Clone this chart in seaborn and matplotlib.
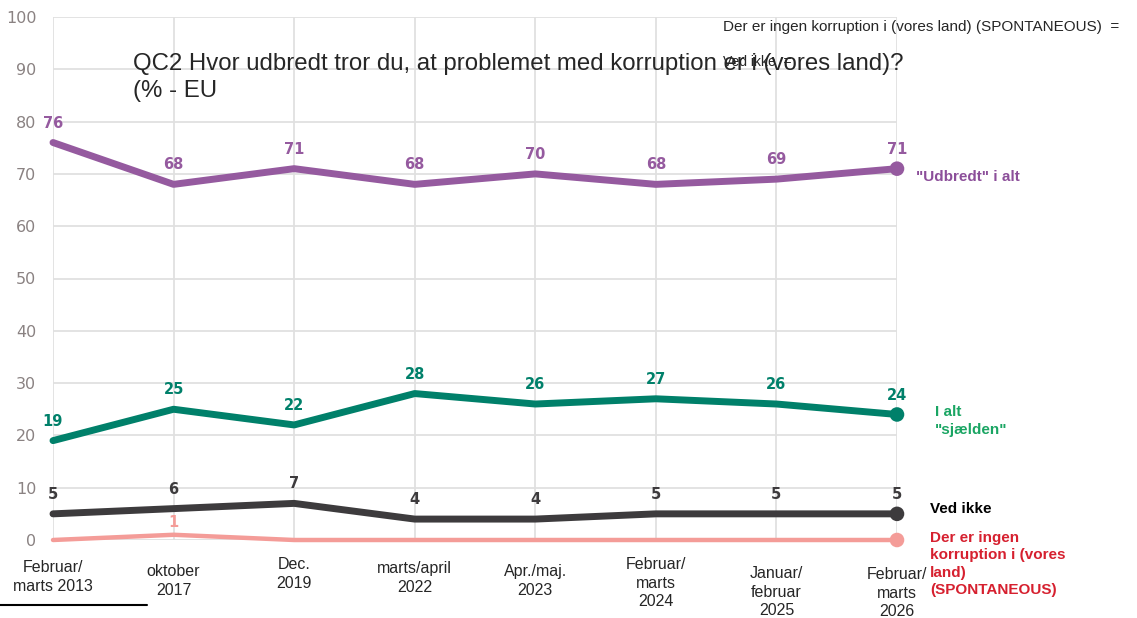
import numpy as np
import pandas as pd
import matplotlib.pyplot as plt
import seaborn as sns
from matplotlib.lines import Line2D

# survey waves (x axis)
waves = ['Februar/\nmarts 2013', 'oktober\n2017', 'Dec.\n2019', 'marts/april\n2022',
         'Apr./maj.\n2023', 'Februar/\nmarts\n2024', 'Januar/\nfebruar\n2025', 'Februar/\nmarts\n2026']

udbredt = [76, 68, 71, 68, 70, 68, 69, 71]
sjaelden = [19, 25, 22, 28, 26, 27, 26, 24]
ved_ikke = [5, 6, 7, 4, 4, 5, 5, 5]
ingen = [0, 1, 0, 0, 0, 0, 0, 0]

series_names = ['"Udbredt" i alt', 'I alt\n"sjælden"', 'Ved ikke',
                'Der er ingen\nkorruption i (vores\nland)\n(SPONTANEOUS)']
line_colors = ['#955a9f', '#00806a', '#3d3b3d', '#f49c98']
label_colors = ['#8c4f9a', '#1aa563', '#000000', '#d6202f']

title = 'QC2 Hvor udbredt tror du, at problemet med korruption er i (vores land)?\n(% - EU'

df = pd.DataFrame({
    'idx': list(range(len(waves))) * 4,
    'value': udbredt + sjaelden + ved_ikke + ingen,
    'serie': np.repeat(series_names, len(waves)),
})

sns.set_style('whitegrid')
plt.rcParams['font.family'] = ['Liberation Sans', 'DejaVu Sans']

fig = plt.figure(figsize=(11.37, 6.18), dpi=100)
ax = fig.add_axes([53 / 1137, 78 / 618, 844 / 1137, 523 / 618])

palette = dict(zip(series_names, line_colors))
for name, lw in zip(series_names, [5, 5, 5, 3.2]):
    sub = df[df['serie'] == name]
    sns.lineplot(data=sub, x='idx', y='value', color=palette[name], lw=lw,
                 ax=ax, clip_on=False, legend=False, zorder=3)
    last = sub[sub['idx'] == sub['idx'].max()]
    sns.scatterplot(data=last, x='idx', y='value', color=palette[name], s=110,
                    edgecolor='none', ax=ax, clip_on=False, legend=False, zorder=4)

# value labels
for vals, col in zip([udbredt, sjaelden, ved_ikke], line_colors[:3]):
    for i, v in enumerate(vals):
        ax.annotate(str(v), (i, v), xytext=(0, 14), textcoords='offset points',
                    ha='center', va='center', color=col, fontsize=10.5,
                    fontweight='bold', family='DejaVu Sans')
for i, v in enumerate(ingen):
    if v > 0:
        ax.annotate(str(v), (i, v), xytext=(0, 9), textcoords='offset points',
                    ha='center', va='center', color=line_colors[3], fontsize=10.5,
                    fontweight='bold', family='DejaVu Sans')

ax.set_xlim(0, len(waves) - 1)
ax.set_ylim(0, 100)
ax.set_yticks(range(0, 101, 10))
ax.set_xticks(range(len(waves)))
ax.set_xticklabels([])
ax.set_xlabel('')
ax.set_ylabel('')
ax.grid(True, color='#e0e0e0', lw=1.3)
for s in ax.spines.values():
    s.set_visible(False)
ax.tick_params(axis='y', length=4, color='#e0e0e0', width=1.3, pad=8,
               labelsize=11.5, labelcolor='#8a8282')
ax.tick_params(axis='x', length=0)
for lab in ax.get_yticklabels():
    lab.set_family('DejaVu Sans')

# x labels, slightly staggered like the original
x_off = [-20, -24, -17, -21, -24, -17, -26, -27]
for i, (lab, off) in enumerate(zip(waves, x_off)):
    ax.annotate(lab, (i, 0), xytext=(0, off * 0.72), textcoords='offset points',
                ha='center', va='top', fontsize=11.5, linespacing=1.3,
                annotation_clip=False)

# series labels on the right
tr = ax.get_yaxis_transform()
ax.text(1.0225, 69.5, series_names[0], transform=tr, color=label_colors[0],
        fontsize=11, fontweight='bold', va='center')
ax.text(1.045, 22.8, series_names[1], transform=tr, color=label_colors[1],
        fontsize=11, fontweight='bold', va='center', linespacing=1.35)
ax.text(1.039, 5.9, series_names[2], transform=tr, color=label_colors[2],
        fontsize=11, fontweight='bold', va='center')
ax.text(1.039, 1.8, series_names[3], transform=tr, color=label_colors[3],
        fontsize=11, fontweight='bold', va='top', linespacing=1.32)

fig.text(133 / 1137, 1 - 53 / 618, title, fontsize=17.3, va='top', ha='left',
         linespacing=1.3)
fig.text(723 / 1137, 1 - 27 / 618, 'Der er ingen korruption i (vores land) (SPONTANEOUS)  =',
         fontsize=11, va='center', ha='left')
fig.text(723 / 1137, 1 - 62 / 618, 'Ved ikke  =', fontsize=10, va='center', ha='left')
fig.add_artist(Line2D([0, 147 / 1137], [1 - 605 / 618] * 2, color='black', lw=1.5))

fig.savefig('out.png', dpi=100)
